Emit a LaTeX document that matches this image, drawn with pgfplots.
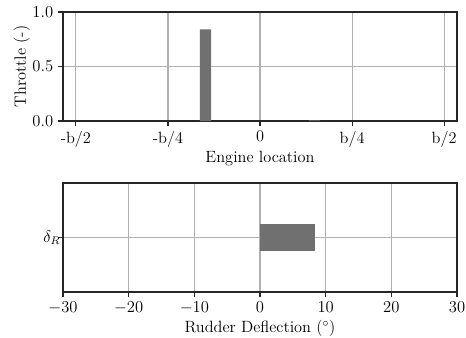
\documentclass[border=0pt]{standalone}
\usepackage{pgfplots}
\pgfplotsset{compat=1.18}
\definecolor{barc}{RGB}{112,112,112}
\definecolor{gridc}{RGB}{176,176,176}
\pgfplotsset{
  common/.style={
    width=283.7bp, height=78.5bp, scale only axis,
    font=\fontsize{11.8}{14}\selectfont,
    axis line style={black!85, line width=0.8pt},
    grid=major, major grid style={gridc, line width=0.8pt},
    tick align=outside, major tick length=3.5bp,
    tick style={black!85, line width=0.8pt},
    xtick pos=bottom, ytick pos=left,
  }
}
\begin{document}
\begin{tikzpicture}
% frame of the reference image (1 px = 0.72 bp)
\useasboundingbox (-45.36bp,8.64bp) rectangle (290.16bp,-234.72bp);
% throttle per engine
\begin{axis}[common, name=top, at={(0,0)}, anchor=north west,
  xmin=-0.535, xmax=0.535, ymin=0, ymax=1,
  xtick={-0.5,-0.25,0,0.25,0.5},
  xticklabels={-b/2,-b/4,0,b/4,b/2},
  ytick={0,0.5,1},
  yticklabel style={/pgf/number format/.cd, fixed, fixed zerofill, precision=1},
  xlabel={Engine location}, ylabel={Throttle (-)},
  xlabel style={yshift=4pt},
  ylabel style={yshift=-5bp},
]
\addplot[ybar, fill=barc, draw=none, bar width=0.03] coordinates {(-0.148,0.84) (0.148,0.005)};
\end{axis}
% rudder
\begin{axis}[common, at={(0,-123.12bp)}, anchor=north west,
  xmin=-30, xmax=30, ymin=-1.575, ymax=1.575,
  xtick={-30,-20,...,30},
  ytick={0}, yticklabels={$\delta_R$},
  yticklabel style={xshift=5bp},
  xlabel={Rudder Deflection ($^\circ$)},
  xlabel style={yshift=2pt},
]
\addplot[xbar, fill=barc, draw=none, bar width=0.8] coordinates {(8.35,0)};
\end{axis}
\end{tikzpicture}
\end{document}
